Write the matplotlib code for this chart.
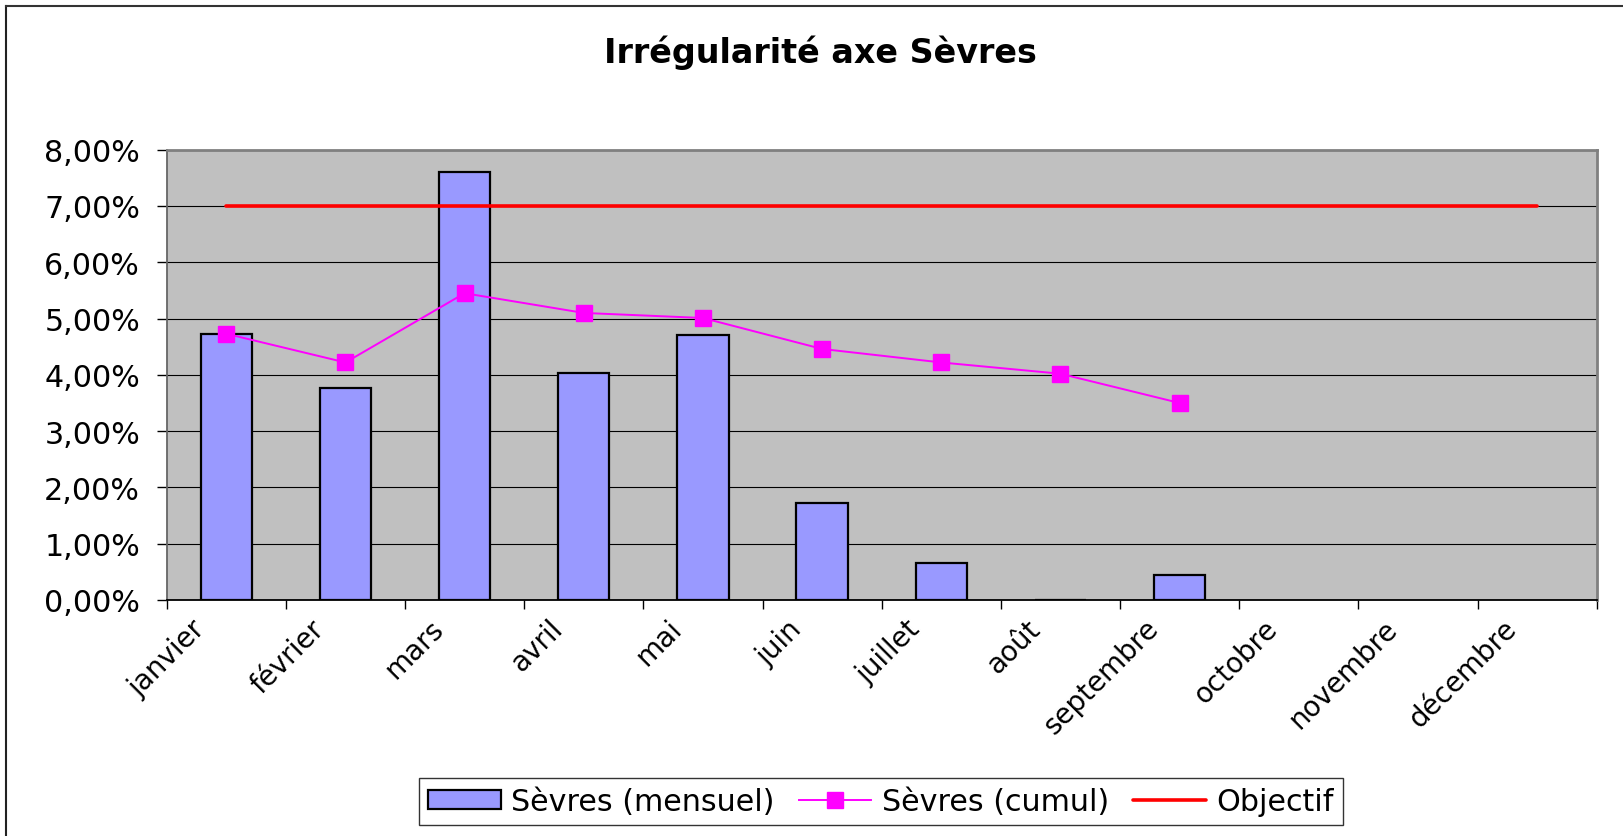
import numpy as np
import matplotlib
matplotlib.use("Agg")
import matplotlib.pyplot as plt
from matplotlib.lines import Line2D
from matplotlib.ticker import FuncFormatter, FixedLocator
import matplotlib.transforms as mtransforms

months = ["janvier", "février", "mars", "avril", "mai", "juin", "juillet",
          "août", "septembre", "octobre", "novembre", "décembre"]
mensuel = [4.72, 3.76, 7.60, 4.03, 4.71, 1.72, 0.65, 0.0, 0.44,
           np.nan, np.nan, np.nan]
cumul = [4.73, 4.22, 5.45, 5.10, 5.01, 4.46, 4.22, 4.02, 3.50,
         np.nan, np.nan, np.nan]
objectif = [7.0] * 12
yticks = [0, 1, 2, 3, 4, 5, 6, 7, 8]

title = "Irrégularité axe Sèvres"
lab_mensuel = "Sèvres (mensuel)"
lab_cumul = "Sèvres (cumul)"
lab_obj = "Objectif"

W, H, DPI = 1624, 837, 100
fig = plt.figure(figsize=(W / DPI, H / DPI), dpi=DPI)
plt.rcParams['font.family'] = ['DejaVu Sans']

L, R, T, B = 166.7, 1596.7, 150.7, 601.0
ax = fig.add_axes([L / W, 1 - B / H, (R - L) / W, (B - T) / H])
ax.set_facecolor("#C0C0C0")

x = np.arange(len(months))
bars = ax.bar(x, mensuel, width=0.43, color="#9999FF", edgecolor="black",
              linewidth=1.6, label=lab_mensuel, zorder=3)
l_cum, = ax.plot(x, cumul, color="#FF00FF", linewidth=1.4, marker="s",
                 markersize=11, markeredgecolor="#FF00FF", label=lab_cumul, zorder=4)
l_obj, = ax.plot(x, objectif, color="#FF0000", linewidth=2.6, label=lab_obj,
                 zorder=5, solid_capstyle="round")

ax.set_xlim(-0.5, len(months) - 0.5)
ax.set_ylim(0, 8)
ax.set_yticks(yticks)
ax.yaxis.set_major_formatter(FuncFormatter(lambda v, p: f"{v:.2f}%".replace(".", ",")))
ax.yaxis.grid(True, color="black", linewidth=0.8, zorder=1)
ax.set_axisbelow(True)

ax.tick_params(axis="y", direction="out", length=7.2, width=1.0,
               color="black", labelsize=21.7, pad=12)

# category boundary ticks (major), labels at centers (minor)
ax.xaxis.set_major_locator(FixedLocator(np.arange(-0.5, len(months), 1.0)))
ax.xaxis.set_major_formatter(FuncFormatter(lambda v, p: ""))
ax.xaxis.set_minor_locator(FixedLocator(x))
ax.set_xticklabels(months, minor=True)
ax.tick_params(axis="x", which="major", direction="out", length=6.5,
               width=1.0, color="black")
ax.tick_params(axis="x", which="minor", length=0, pad=10, labelsize=20)
offset = mtransforms.ScaledTranslation(-35 / DPI, 0, fig.dpi_scale_trans)
for lab in ax.get_xticklabels(minor=True):
    lab.set_rotation(45)
    lab.set_ha("right")
    lab.set_va("top")
    lab.set_rotation_mode("anchor")
    lab.set_transform(lab.get_transform() + offset)

for s in ["top", "right"]:
    ax.spines[s].set_color("#808080")
    ax.spines[s].set_linewidth(2.0)
ax.spines["left"].set_color("#666666")
ax.spines["left"].set_linewidth(1.3)
ax.spines["bottom"].set_color("black")
ax.spines["bottom"].set_linewidth(1.3)

fig.text(820 / W, 1 - 63.3 / H, title, ha="center", va="baseline",
         fontsize=24, fontweight="bold")

leg = fig.legend(handles=[bars, l_cum, l_obj],
                 labels=[lab_mensuel, lab_cumul, lab_obj],
                 loc="center", bbox_to_anchor=(881 / W, 1 - 802.5 / H),
                 ncol=3, fontsize=21.7, frameon=True, fancybox=False,
                 edgecolor="black", handlelength=2.4, handletextpad=0.35,
                 columnspacing=0.8, borderpad=0.3, handleheight=0.6)
leg.get_frame().set_linewidth(1.0)

# outer chart border (left and top only visible)
fig.add_artist(Line2D([6 / W, 6 / W], [0, 1 - 7 / H], transform=fig.transFigure,
                      color="#222222", linewidth=1.5))
fig.add_artist(Line2D([6 / W, 1], [1 - 7 / H, 1 - 7 / H], transform=fig.transFigure,
                      color="#333333", linewidth=1.5))

fig.savefig("out.png", dpi=DPI)
